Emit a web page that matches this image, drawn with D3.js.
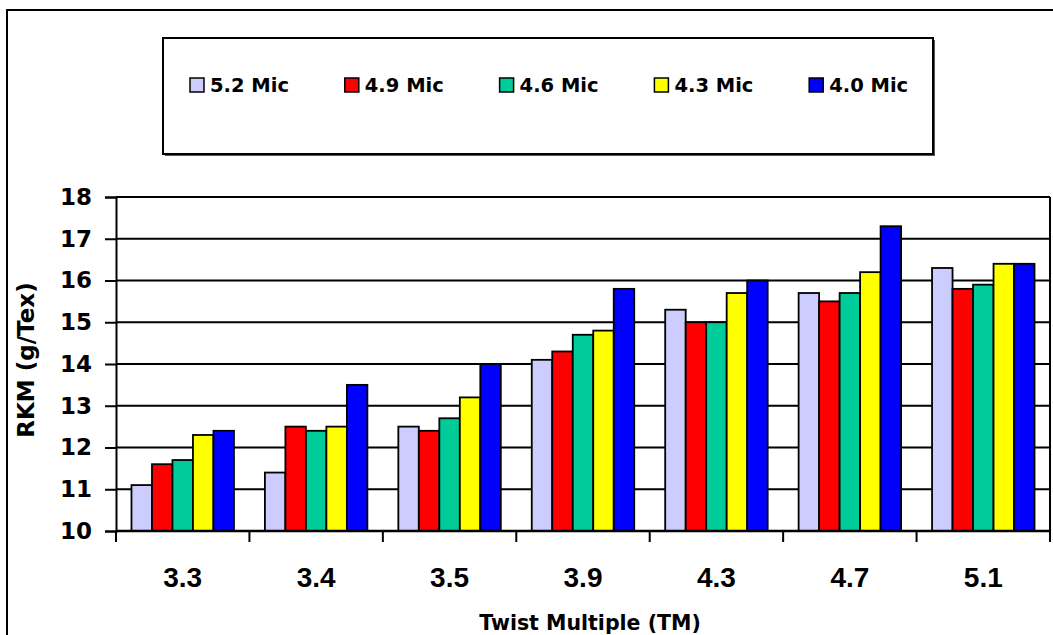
<!DOCTYPE html>
<html>
<head>
<meta charset="utf-8">
<script src="https://cdn.jsdelivr.net/npm/d3@7"></script>
<style>
  body { margin: 0; background: #fff; }
  svg { display: block; font-family: "DejaVu Sans", sans-serif; font-weight: bold; }
  .grid line { stroke: #000; stroke-width: 2px; }
  .bar rect { stroke: #000; stroke-width: 1.8px; }
</style>
</head>
<body>
<div id="chart"></div>
<script>
const categories = ["3.3", "3.4", "3.5", "3.9", "4.3", "4.7", "5.1"];
const seriesNames = ["5.2 Mic", "4.9 Mic", "4.6 Mic", "4.3 Mic", "4.0 Mic"];
const seriesColors = ["#CCCCFF", "#FF0000", "#00CC99", "#FFFF00", "#0000FF"];
const mic52 = [11.1, 11.4, 12.5, 14.1, 15.3, 15.7, 16.3];
const mic49 = [11.6, 12.5, 12.4, 14.3, 15.0, 15.5, 15.8];
const mic46 = [11.7, 12.4, 12.7, 14.7, 15.0, 15.7, 15.9];
const mic43 = [12.3, 12.5, 13.2, 14.8, 15.7, 16.2, 16.4];
const mic40 = [12.4, 13.5, 14.0, 15.8, 16.0, 17.3, 16.4];
const yTicks = [10, 11, 12, 13, 14, 15, 16, 17, 18];

const seriesValues = [mic52, mic49, mic46, mic43, mic40];

const width = 1053, height = 635;
const plot = {left: 116, right: 1050, top: 197, bottom: 531};

const svg = d3.select("#chart").append("svg")
  .attr("width", width)
  .attr("height", height);

// outer frame (runs off the right and bottom edges)
svg.append("rect")
  .attr("x", 7).attr("y", 10)
  .attr("width", 1070).attr("height", 650)
  .attr("fill", "#fff")
  .attr("stroke", "#000")
  .attr("stroke-width", 2);

const x0 = d3.scaleBand()
  .domain(categories)
  .range([plot.left, plot.right])
  .paddingInner(0.232)
  .paddingOuter(0.116);

const x1 = d3.scaleBand()
  .domain(seriesNames)
  .range([0, x0.bandwidth()]);

const y = d3.scaleLinear()
  .domain([10, 18])
  .range([plot.bottom, plot.top]);

// gridlines
svg.append("g")
  .attr("class", "grid")
  .selectAll("line")
  .data(yTicks)
  .join("line")
    .attr("x1", plot.left)
    .attr("x2", plot.right)
    .attr("y1", d => y(d))
    .attr("y2", d => y(d));

// right border of the plot area
svg.append("line")
  .attr("x1", plot.right).attr("x2", plot.right)
  .attr("y1", plot.top).attr("y2", plot.bottom)
  .attr("stroke", "#000").attr("stroke-width", 2);

// bars
const groups = svg.append("g")
  .selectAll("g")
  .data(categories)
  .join("g")
    .attr("class", "bar")
    .attr("transform", d => `translate(${x0(d)},0)`);

groups.selectAll("rect")
  .data((c, ci) => seriesNames.map((s, si) => ({s, si, v: seriesValues[si][ci]})))
  .join("rect")
    .attr("x", d => x1(d.s))
    .attr("width", x1.bandwidth())
    .attr("y", d => y(d.v))
    .attr("height", d => y(10) - y(d.v))
    .attr("fill", d => seriesColors[d.si]);

// y axis
const yAxis = svg.append("g")
  .attr("transform", `translate(${plot.left},0)`)
  .call(d3.axisLeft(y).tickValues(yTicks).tickSize(11).tickPadding(13).tickFormat(d3.format("d")));
yAxis.select(".domain").attr("stroke-width", 2);
yAxis.selectAll(".tick line").attr("stroke-width", 2);
yAxis.selectAll("text")
  .attr("font-size", 23)
  .attr("font-family", "DejaVu Sans")
  .attr("font-weight", "bold")
  .attr("fill", "#000");

// x axis baseline + category boundary ticks
const step = x0.step();
const bounds = categories.map(c => x0(c) - step * x0.paddingInner() / 2).concat([plot.right]);
svg.append("line")
  .attr("x1", plot.left).attr("x2", plot.right)
  .attr("y1", plot.bottom).attr("y2", plot.bottom)
  .attr("stroke", "#000").attr("stroke-width", 2.5);
svg.append("g")
  .selectAll("line")
  .data(bounds)
  .join("line")
    .attr("x1", d => d).attr("x2", d => d)
    .attr("y1", plot.bottom).attr("y2", plot.bottom + 11)
    .attr("stroke", "#000").attr("stroke-width", 2);

svg.append("g")
  .selectAll("text")
  .data(categories)
  .join("text")
    .attr("x", d => x0(d) + x0.bandwidth() / 2)
    .attr("y", 587)
    .attr("text-anchor", "middle")
    .attr("font-family", "'Liberation Sans', Arial, sans-serif")
    .attr("font-size", 28)
    .text(d => d);

// axis titles
svg.append("text")
  .attr("x", (plot.left + plot.right) / 2 + 7)
  .attr("y", 630)
  .attr("text-anchor", "middle")
  .attr("font-size", 20.5)
  .text("Twist Multiple (TM)");

svg.append("text")
  .attr("transform", "translate(34,360) rotate(-90)")
  .attr("text-anchor", "middle")
  .attr("font-size", 23)
  .text("RKM (g/Tex)");

// legend
const legend = svg.append("g");
legend.append("rect")
  .attr("x", 165).attr("y", 40)
  .attr("width", 770).attr("height", 116)
  .attr("fill", "#555");
legend.append("rect")
  .attr("x", 163).attr("y", 38)
  .attr("width", 770).attr("height", 116)
  .attr("fill", "#fff")
  .attr("stroke", "#000")
  .attr("stroke-width", 2);

const items = legend.selectAll("g.item")
  .data(seriesNames)
  .join("g")
    .attr("class", "item")
    .attr("transform", (d, i) => `translate(${190 + i * 154.8},78)`);
items.append("rect")
  .attr("width", 14).attr("height", 14)
  .attr("fill", (d, i) => seriesColors[i])
  .attr("stroke", "#000")
  .attr("stroke-width", 1.5);
items.append("text")
  .attr("x", 20)
  .attr("y", 14)
  .attr("font-size", 19.5)
  .text(d => d);
</script>
</body>
</html>
